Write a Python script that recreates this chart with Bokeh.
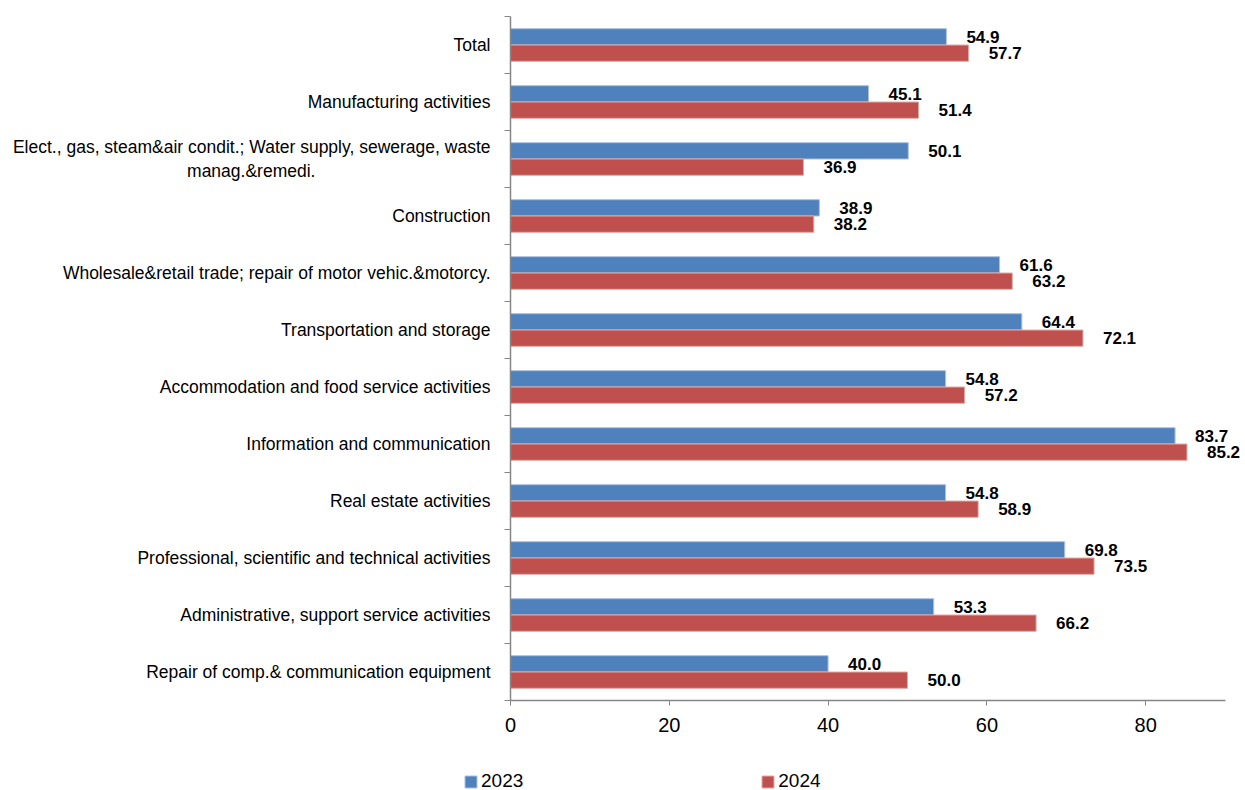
from bokeh.plotting import figure
from bokeh.layouts import column
from bokeh.models import (ColumnDataSource, Range1d, FixedTicker, Legend, LegendItem)
from bokeh.core.properties import value
from bokeh.embed import file_html
from bokeh.resources import INLINE

NBSP = "\u00a0"

categories = [
    "Total",
    "Manufacturing activities",
    "Elect., gas, steam&air condit.; Water supply, sewerage, waste\nmanag.&remedi." + NBSP * 36,
    "Construction",
    "Wholesale&retail trade; repair of motor vehic.&motorcy.",
    "Transportation and storage",
    "Accommodation and food service activities",
    "Information and communication",
    "Real estate activities",
    "Professional, scientific and technical activities",
    "Administrative, support service activities",
    "Repair of comp.& communication equipment",
]
values_2023 = [54.9, 45.1, 50.1, 38.9, 61.6, 64.4, 54.8, 83.7, 54.8, 69.8, 53.3, 40.0]
values_2024 = [57.7, 51.4, 36.9, 38.2, 63.2, 72.1, 57.2, 85.2, 58.9, 73.5, 66.2, 50.0]
series_names = ["2023", "2024"]
x_ticks = [0, 20, 40, 60, 80]

BLUE = "#4F81BD"
RED = "#C0504D"
BLUE_EDGE = "#A9C1E0"
RED_EDGE = "#E2A9A7"
FONT = "'Liberation Sans', Arial, sans-serif"

n = len(categories)
# category slots run from the top (Total) downwards
centers = [n - i - 0.5 for i in range(n)]
bar_h = 0.286

src = ColumnDataSource(dict(
    y23=[c + bar_h / 2 for c in centers],
    y24=[c - bar_h / 2 for c in centers],
    v23=values_2023,
    v24=values_2024,
    t23=[f"{v:.1f}" for v in values_2023],
    t24=[f"{v:.1f}" for v in values_2024],
))

# the value axis stops at 90; the extra room on the right keeps the end labels visible
p = figure(width=1245, height=745, output_backend="svg", toolbar_location=None,
           x_range=Range1d(0, 92.57), y_range=Range1d(0, n),
           min_border_left=510, min_border_right=0,
           min_border_top=16, min_border_bottom=45)
p.frame_align = False
p.outline_line_color = None
p.grid.visible = False
p.background_fill_color = "white"
p.border_fill_color = "white"

p.hbar(y="y23", right="v23", left=0, height=bar_h, source=src,
       fill_color=BLUE, line_color=BLUE_EDGE, line_width=1)
p.hbar(y="y24", right="v24", left=0, height=bar_h, source=src,
       fill_color=RED, line_color=RED_EDGE, line_width=1)

lbl = dict(text_font=value(FONT), text_font_style="bold", text_font_size="17px",
           text_color="#000000", text_align="left", text_baseline="middle", x_offset=20)
p.text(x="v23", y="y23", text="t23", source=src, **lbl)
p.text(x="v24", y="y24", text="t24", source=src, **lbl)

AX = "#868686"
# x axis
xa = p.xaxis[0]
xa.bounds = (0, 90)
xa.ticker = FixedTicker(ticks=x_ticks, minor_ticks=[])
xa.axis_line_color = AX
xa.axis_line_width = 1.5
xa.major_tick_line_color = AX
xa.major_tick_in = 0
xa.major_tick_out = 5
xa.minor_tick_line_color = None
xa.major_label_standoff = 12
xa.major_label_text_font = FONT
xa.major_label_text_font_size = "20px"
xa.major_label_text_color = "#000000"

# y axis: labels at slot centres, tick marks at slot boundaries
ya = p.yaxis[0]
ya.ticker = FixedTicker(ticks=centers, minor_ticks=list(range(n + 1)))
ya.major_label_overrides = {c: cat for c, cat in zip(centers, categories)}
ya.axis_line_color = AX
ya.axis_line_width = 1.5
ya.major_tick_line_color = None
ya.major_tick_in = 0
ya.major_tick_out = 0
ya.minor_tick_line_color = AX
ya.minor_tick_in = 0
ya.minor_tick_out = 6
ya.major_label_standoff = 14
ya.major_label_text_font = FONT
ya.major_label_text_font_size = "17.5px"
ya.major_label_text_color = "#000000"

# legend strip underneath the chart; its swatch glyphs sit outside the visible range
leg_fig = figure(width=1245, height=45, output_backend="svg", toolbar_location=None,
                 x_range=Range1d(0, 1), y_range=Range1d(0, 1),
                 x_axis_location=None, y_axis_location=None,
                 min_border_left=0, min_border_right=0,
                 min_border_top=0, min_border_bottom=0)
leg_fig.frame_align = False
leg_fig.outline_line_color = None
leg_fig.grid.visible = False
k23 = leg_fig.hbar(y=[-5], right=[0], left=0, height=0.1,
                   fill_color=BLUE, line_color=BLUE_EDGE, line_width=1)
k24 = leg_fig.hbar(y=[-5], right=[0], left=0, height=0.1,
                   fill_color=RED, line_color=RED_EDGE, line_width=1)
legend = Legend(items=[LegendItem(label=series_names[0], renderers=[k23]),
                       LegendItem(label=series_names[1], renderers=[k24])],
                location=(463, -2), orientation="horizontal", spacing=237,
                padding=0, margin=0, glyph_width=15, glyph_height=15,
                label_standoff=3, label_height=16,
                label_text_font=FONT, label_text_font_size="19px",
                label_text_color="#000000",
                border_line_color=None, background_fill_alpha=0)
leg_fig.add_layout(legend)

page = column(p, leg_fig, spacing=0)
open("out.html", "w").write(file_html(page, INLINE))
